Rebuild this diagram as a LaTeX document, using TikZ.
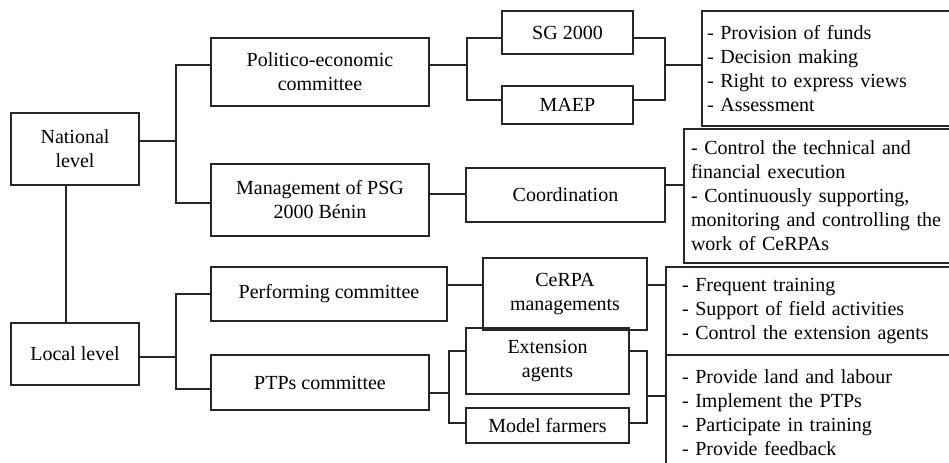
\documentclass[tikz,border=0pt]{standalone}
\usepackage{fontspec}
\setmainfont{Liberation Serif}
\begin{document}
\begin{tikzpicture}[x=0.5pt,y=-0.5pt,line width=1pt,
  every node/.style={font=\fontsize{10}{12}\selectfont,text=black},
  unit/.style={draw=black!85,align=center,inner sep=1pt},
  duty/.style={draw=black!85,anchor=west,align=left,inner ysep=1pt},
  link/.style={draw=black!85}
  ]
    \useasboundingbox (0,0) rectangle (949,462);
    \clip (0,0) rectangle (949,462);

    % levels
    \node[unit,minimum width=64pt,minimum height=36pt] (nat) at (75,149) {National\\level};
    \node[unit,minimum width=64pt,minimum height=31pt] (loc) at (75,354) {Local level};

    % national branch
    \node[unit,minimum width=109pt,minimum height=34pt] (pol) at (320,72) {Politico-economic\\committee};
    \node[unit,minimum width=109pt,minimum height=36pt] (man) at (320,200) {Management of PSG\\2000 Bénin};
    \node[unit,minimum width=65.5pt,minimum height=21.5pt] (sg) at (567.5,32.5) {SG 2000};
    \node[unit,minimum width=65.5pt,minimum height=19pt] (maep) at (567.5,105) {MAEP};
    \node[unit,minimum width=99.5pt,minimum height=27pt] (coo) at (565.5,195) {Coordination};

    % local branch
    \node[unit,minimum width=118pt,minimum height=27pt] (per) at (329,294) {Performing committee};
    \node[unit,minimum width=109pt,minimum height=27.5pt] (ptp) at (320,382.5) {PTPs committee};
    \node[unit,minimum width=82pt,minimum height=36pt] (cer) at (565,294) {CeRPA\\managements};
    \node[unit,minimum width=81.5pt,minimum height=33pt] (ext) at (547.5,361) {Extension\\agents};
    \node[unit,minimum width=81.5pt,minimum height=17.5pt] (mod) at (547.5,425.5) {Model farmers};

    % tasks
    \node[duty,inner xsep=2.5pt,text width=124.5pt,minimum height=57.5pt] (lst1) at (701,68.5)
        {- Provision of funds\\- Decision making\\- Right to express views\\- Assessment};
    \node[duty,inner xsep=3.5pt,text width=131.5pt,minimum height=67pt] (lst2) at (683,196)
        {- Control the technical and\\financial execution\\- Continuously supporting,\\monitoring and controlling the\\work of CeRPAs};
    \node[duty,inner xsep=8pt,text width=131.5pt,minimum height=44pt] (lst3) at (665,311)
        {- Frequent training\\- Support of field activities\\- Control the extension agents};
    \node[duty,inner xsep=8pt,text width=131.5pt,minimum height=58pt] (lst4) at (665,413)
        {- Provide land and labour\\- Implement the PTPs\\- Participate in training\\- Provide feedback};

    % connectors
    \draw[link] ([yshift=4pt]nat.east) -- ++(36,0) coordinate (nj);
    \draw[link] ([yshift=3.5pt]pol.west) -| (nj) |- ([yshift=-1.5pt]man.west);
    \draw[link] ([yshift=3.5pt]pol.east) -- ++(37,0) coordinate (pj);
    \draw[link] ([yshift=-2.75pt]sg.west) -| (pj) |- ([yshift=2.5pt]maep.west);
    \draw[link] ([yshift=1.75pt]lst1.west) -- ++(-36,0) coordinate (sj);
    \draw[link] ([yshift=-2.75pt]sg.east) -| (sj) |- ([yshift=2.5pt]maep.east);
    \draw[link] ([yshift=3pt]man.east) -- ([yshift=3pt]man.east -| coo.west);
    \draw[link] ([yshift=5pt]coo.east) -- ([yshift=5pt]coo.east -| lst2.west);
    \draw[link] ([xshift=-4.5pt]nat.south) -- ([xshift=-4.5pt]loc.north);
    \draw[link] ([yshift=-1.5pt]loc.east) -- ++(36,0) coordinate (lj);
    \draw[link] (per.west) -| (lj) |- ([yshift=-3.25pt]ptp.west);
    \draw[link] ([yshift=4.5pt]per.east) -- ([yshift=4.5pt]cer.west);
    \draw[link] ([yshift=4.5pt]cer.east) -- ([yshift=4.5pt]cer.east -| lst3.west);
    \draw[link] ([yshift=-5.25pt]ptp.east) -- ++(19,0) coordinate (qj);
    \draw[link] ([yshift=5pt]ext.west) -| (qj) |- ([yshift=1.25pt]mod.west);
    \draw[link] ([yshift=8.5pt]lst4.west) -- ++(-18,0) coordinate (ej);
    \draw[link] ([yshift=5pt]ext.east) -| (ej) |- ([yshift=1.25pt]mod.east);
\end{tikzpicture}
\end{document}
